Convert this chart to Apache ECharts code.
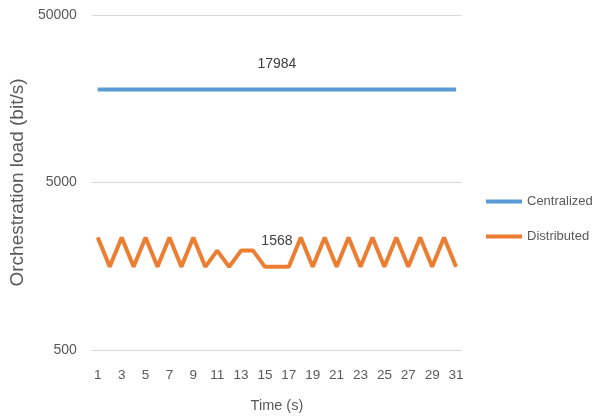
<!DOCTYPE html>
<html>
<head>
<meta charset="utf-8">
<script src="https://cdn.jsdelivr.net/npm/echarts@6/dist/echarts.min.js"></script>
<style>html,body{margin:0;padding:0;background:#fff}#c{width:596px;height:419px}</style>
</head>
<body>
<div id="c"></div>
<script>
const categories = ['1','2','3','4','5','6','7','8','9','10','11','12','13','14','15','16','17','18','19','20','21','22','23','24','25','26','27','28','29','30','31'];
const centralized = [17984,17984,17984,17984,17984,17984,17984,17984,17984,17984,17984,17984,17984,17984,17984,17984,17984,17984,17984,17984,17984,17984,17984,17984,17984,17984,17984,17984,17984,17984,17984];
const distributed = [2350,1568,2350,1568,2350,1568,2350,1568,2350,1568,1960,1568,1960,1960,1568,1568,1568,2350,1568,2350,1568,2350,1568,2350,1568,2350,1568,2350,1568,2350,1568];
const yTicks = [500, 5000, 50000];
const labelIndex = 15;

const font = 'Liberation Sans';
function withLabel(arr) {
  return arr.map((v, i) => i === labelIndex ? {
    value: v,
    label: {show: true, position: 'top', distance: 18, color: '#404040', fontSize: 14, fontFamily: font}
  } : v);
}

const chart = echarts.init(document.getElementById('c'), null, {renderer: 'canvas'});
chart.setOption({
  animation: false,
  backgroundColor: '#fff',
  grid: {left: 90, right: 134, top: 15, bottom: 69, containLabel: false},
  legend: {
    orient: 'vertical', left: 481, top: 190,
    icon: 'rect', itemWidth: 36, itemHeight: 4, itemGap: 22,
    textStyle: {color: '#595959', fontSize: 13, fontFamily: font},
    data: ['Centralized', 'Distributed']
  },
  xAxis: {
    type: 'category', data: categories, boundaryGap: true,
    name: 'Time (s)', nameLocation: 'middle', nameGap: 48,
    nameTextStyle: {color: '#595959', fontSize: 14.5, fontFamily: font},
    axisLine: {show: false}, axisTick: {show: false},
    axisLabel: {interval: 1, color: '#595959', fontSize: 13.5, fontFamily: font, margin: 18}
  },
  yAxis: {
    type: 'log', logBase: 10, min: 500, max: 50000,
    name: 'Orchestration load (bit/s)', nameLocation: 'middle', nameGap: 58,
    nameTextStyle: {color: '#595959', fontSize: 19, fontFamily: font},
    axisLine: {show: false},
    axisTick: {show: false, customValues: yTicks},
    axisLabel: {customValues: yTicks, color: '#595959', fontSize: 14, fontFamily: font, margin: 15,
                formatter: v => String(Math.round(v))},
    splitLine: {show: true, lineStyle: {color: '#d9d9d9', width: 1}}
  },
  series: [
    {name: 'Centralized', type: 'line', data: withLabel(centralized), showSymbol: true, symbol: 'circle', symbolSize: 1,
     lineStyle: {color: '#5B9BD5', width: 4}, itemStyle: {color: '#5B9BD5'}},
    {name: 'Distributed', type: 'line', data: withLabel(distributed), showSymbol: true, symbol: 'circle', symbolSize: 1,
     lineStyle: {color: '#ED7D31', width: 4}, itemStyle: {color: '#ED7D31'}}
  ]
});
</script>
</body>
</html>
